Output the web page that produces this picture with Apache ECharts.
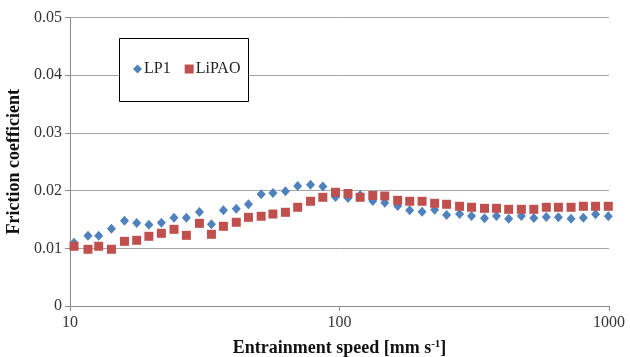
<!DOCTYPE html>
<html>
<head>
<meta charset="utf-8">
<script src="https://cdn.jsdelivr.net/npm/echarts@6/dist/echarts.min.js"></script>
<style>
    html, body { margin: 0; padding: 0; background: #fff; }
    #main { width: 630px; height: 357px; }
</style>
</head>
<body>
<div id="main"></div>
<script>
// entrainment speed [mm/s]
var speed = [10.35, 11.66, 12.78, 14.25, 15.93, 17.68, 19.62, 21.83, 24.32, 27.03,
    30.22, 33.48, 37.09, 41.40, 45.94, 51.21, 56.62, 63.00, 69.96, 78.08,
    86.73, 96.65, 107.5, 119.3, 132.9, 147.2, 164.4, 182.2, 202.5, 225.4,
    249.7, 279.0, 309.0, 345.2, 382.4, 424.4, 473.0, 526.1, 585.4, 649.0,
    723.3, 803.2, 891.3, 994.1];
var lp1 = [0.01097, 0.01218, 0.01218, 0.01340, 0.01478, 0.01438, 0.01409, 0.01444, 0.01530, 0.01530,
    0.01629, 0.01418, 0.01659, 0.01686, 0.01763, 0.01936, 0.01958, 0.01988, 0.02080, 0.02102,
    0.02071, 0.01889, 0.01872, 0.01924, 0.01820, 0.01790, 0.01733, 0.01659, 0.01634, 0.01669,
    0.01577, 0.01594, 0.01560, 0.01520, 0.01560, 0.01513, 0.01560, 0.01525, 0.01542, 0.01537,
    0.01513, 0.01530, 0.01589, 0.01555];
var lipao = [0.01035, 0.00983, 0.01035, 0.00983, 0.01121, 0.01139, 0.01208, 0.01260, 0.01329, 0.01225,
    0.01433, 0.01243, 0.01381, 0.01451, 0.01537, 0.01555, 0.01594, 0.01624, 0.01711, 0.01815,
    0.01884, 0.01971, 0.01950, 0.01884, 0.01915, 0.01906, 0.01832, 0.01815, 0.01815, 0.01780,
    0.01763, 0.01728, 0.01711, 0.01693, 0.01693, 0.01676, 0.01676, 0.01676, 0.01711, 0.01711,
    0.01711, 0.01728, 0.01728, 0.01728];
var seriesNames = ['LP1', 'LiPAO'];

function pairs(xs, ys) {
    return xs.map(function (x, i) { return [x, ys[i]]; });
}

var font = 'Liberation Serif';
var myChart = echarts.init(document.getElementById('main'));
var option = {
    animation: false,
    textStyle: { fontFamily: font },
    grid: { left: 70, right: 21, top: 17.5, bottom: 51, containLabel: false, outerBoundsMode: 'none' },
    // legend frame
    graphic: [{
        type: 'rect',
        left: 119,
        top: 38,
        z: 10,
        shape: { width: 129, height: 63 },
        style: { fill: '#fff', stroke: '#000', lineWidth: 1 }
    }],
    legend: {
        left: 133,
        top: 61,
        z: 20,
        orient: 'horizontal',
        padding: 0,
        itemGap: 14,
        itemWidth: 9,
        itemHeight: 9,
        textStyle: { fontFamily: font, fontSize: 16, color: '#222', padding: [0, 0, 0, -3] },
        data: [
            { name: 'LP1', icon: 'diamond' },
            { name: 'LiPAO', icon: 'rect' }
        ]
    },
    xAxis: {
        type: 'log',
        logBase: 10,
        min: 10,
        max: 1000,
        name: '{t|Entrainment speed [mm s}{sup|-1}{t|]}',
        nameLocation: 'middle',
        nameGap: 33,
        nameTextStyle: {
            rich: {
                t: { fontFamily: font, fontSize: 18, fontWeight: 'bold', color: '#111' },
                sup: { fontFamily: font, fontSize: 11, fontWeight: 'bold', color: '#111', verticalAlign: 'top', padding: [0, 0, 7, 0] }
            }
        },
        axisLine: { lineStyle: { color: '#8c8c8c', width: 1 } },
        axisTick: { show: true, length: 5, lineStyle: { color: '#8c8c8c' } },
        minorTick: { show: false },
        splitLine: { show: false },
        axisLabel: {
            fontFamily: font, fontSize: 16, color: '#333', margin: 9,
            formatter: function (v) { return String(v); }
        }
    },
    yAxis: {
        type: 'value',
        min: 0,
        max: 0.05,
        interval: 0.01,
        name: 'Friction coefficient',
        nameLocation: 'middle',
        nameGap: 38,
        nameTextStyle: { fontFamily: font, fontSize: 18, fontWeight: 'bold', color: '#111' },
        axisLine: { show: true, lineStyle: { color: '#8c8c8c', width: 1 } },
        axisTick: { show: true, length: 5, lineStyle: { color: '#8c8c8c' } },
        splitLine: { lineStyle: { color: '#a6a6a6', width: 1 } },
        axisLabel: {
            fontFamily: font, fontSize: 16, color: '#333', margin: 8,
            formatter: function (v) { return v === 0 ? '0' : v.toFixed(2); }
        }
    },
    series: [
        {
            name: seriesNames[0],
            type: 'scatter',
            symbol: 'diamond',
            symbolSize: [9, 10],
            itemStyle: { color: '#4f81bd', opacity: 1 },
            data: pairs(speed, lp1)
        },
        {
            name: seriesNames[1],
            type: 'scatter',
            symbol: 'rect',
            symbolSize: 9,
            itemStyle: { color: '#c0504d', opacity: 1 },
            data: pairs(speed, lipao)
        }
    ]
};
myChart.setOption(option);
</script>
</body>
</html>
